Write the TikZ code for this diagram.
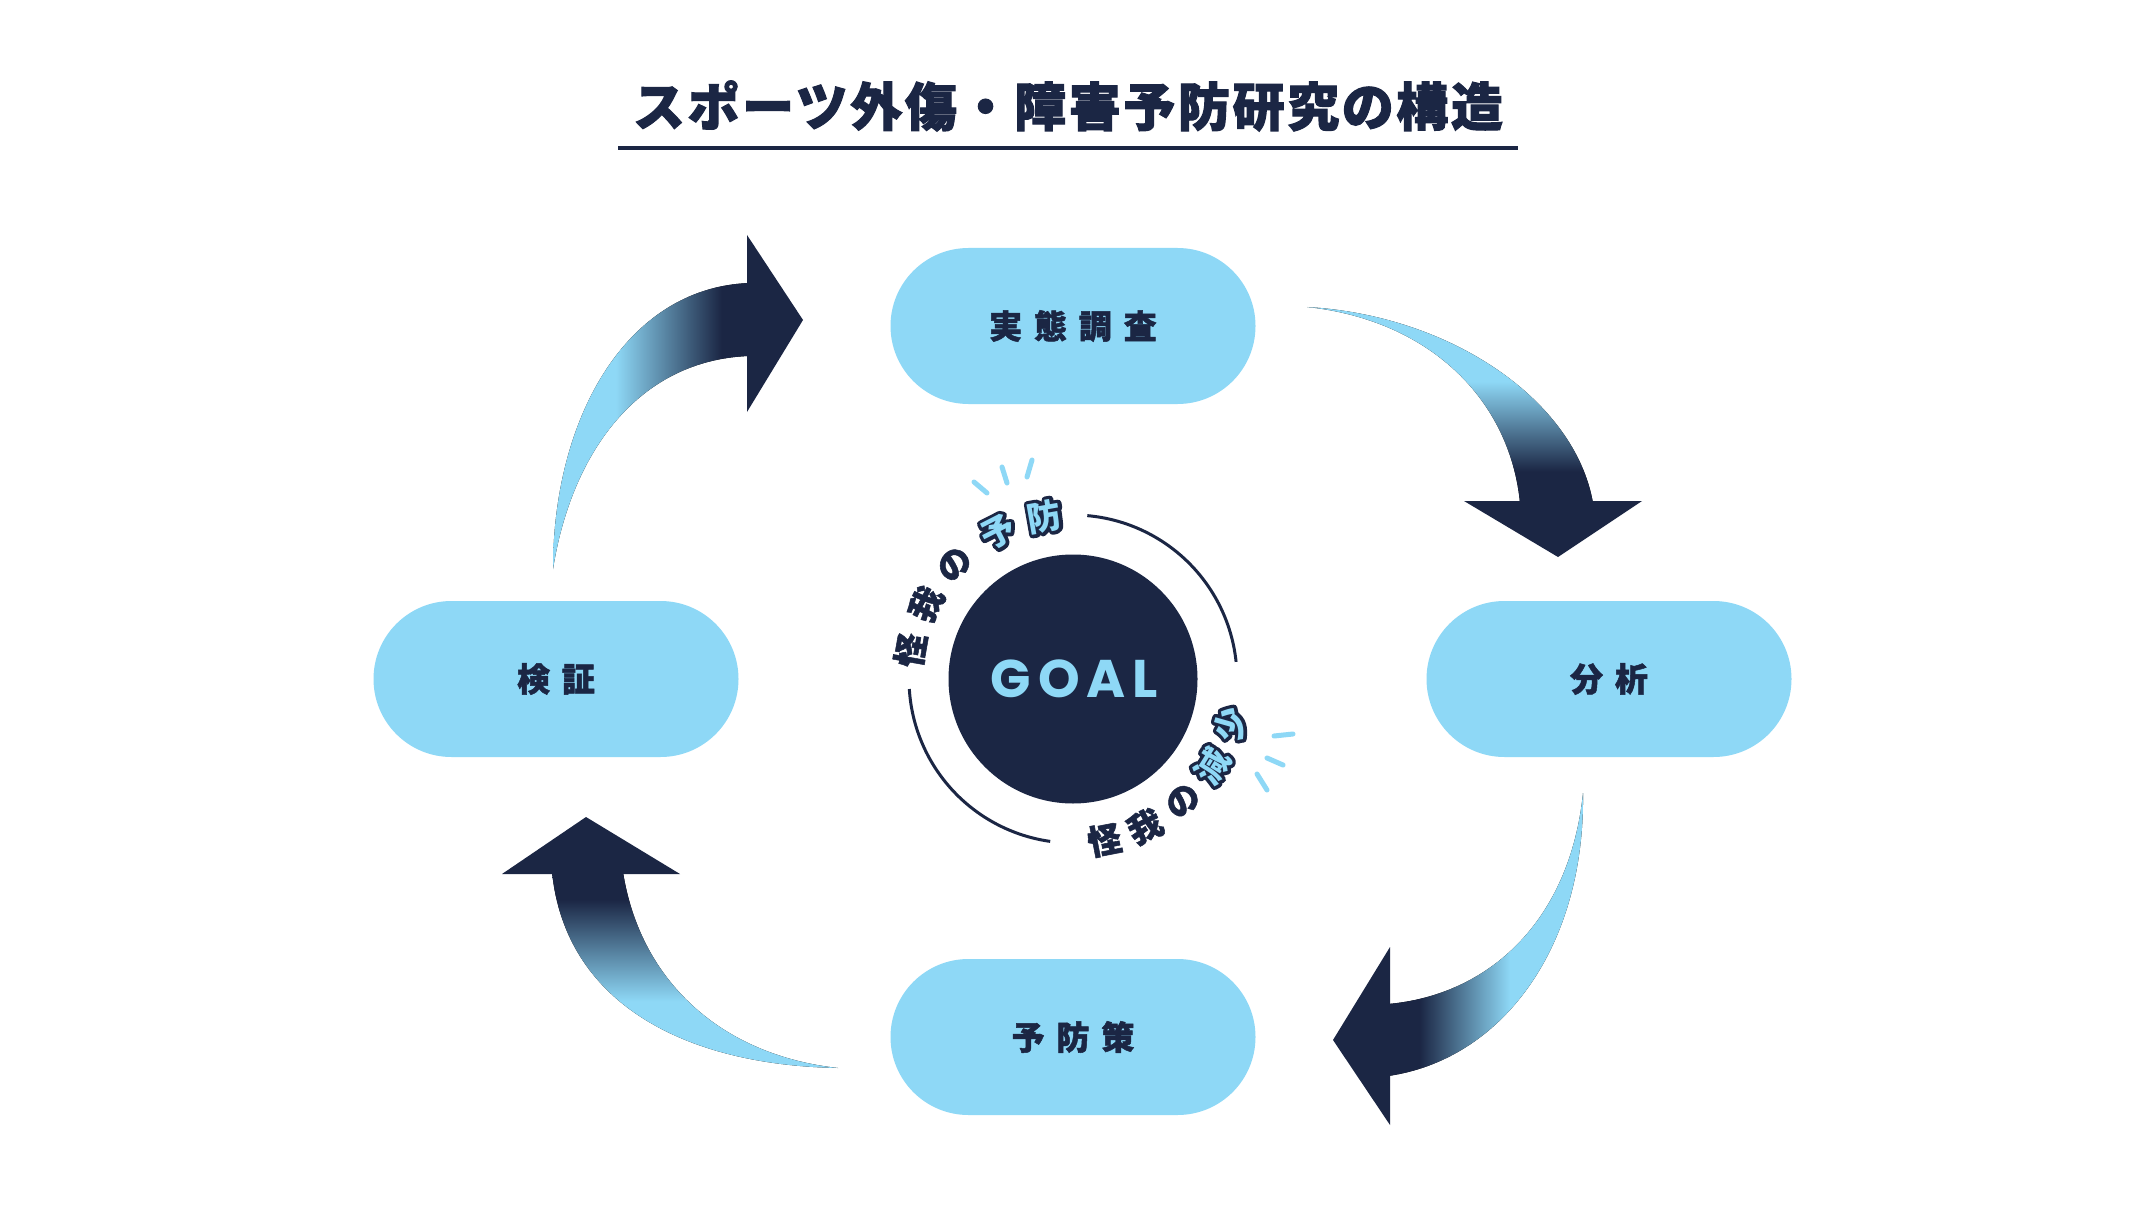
\documentclass[tikz,border=0pt]{standalone}
\usepackage{fontspec}
\newfontfamily\jp{Noto Sans CJK JP}
\newfontfamily\goalf{Poppins}
\definecolor{lb}{RGB}{142,216,246}
\definecolor{nv}{RGB}{27,38,68}
\pgfdeclarehorizontalshading{shA}{100bp}{color(0bp)=(lb); color(41bp)=(lb); color(68bp)=(nv); color(100bp)=(nv)}
\pgfdeclareverticalshading{shB}{100bp}{color(0bp)=(nv); color(33bp)=(nv); color(56bp)=(lb); color(100bp)=(lb)}
\pgfdeclarehorizontalshading{shC}{100bp}{color(0bp)=(nv); color(33bp)=(nv); color(56bp)=(lb); color(100bp)=(lb)}
\pgfdeclareverticalshading{shD}{100bp}{color(0bp)=(lb); color(42bp)=(lb); color(68bp)=(nv); color(100bp)=(nv)}
\tikzset{
  pill/.style={fill=lb, rounded corners=78pt, minimum width=365pt, minimum height=156pt, inner sep=0pt, text=nv,
    font=\jp\bfseries\addfontfeature{LetterSpace=36,FakeBold=1.5}\fontsize{33}{40}\selectfont},
  arcjp/.style={inner sep=0pt, text=nv, font=\jp\bfseries\addfontfeature{FakeBold=1.5}\fontsize{34}{34}\selectfont},
  arcout/.style={inner sep=0pt, text=nv, line join=round, font=\jp\bfseries\addfontfeature{FakeBold=20}\fontsize{34}{34}\selectfont},
  arcin/.style={inner sep=0pt, text=lb, font=\jp\bfseries\fontsize{34}{34}\selectfont},
  ray/.style={lb, line width=5pt, line cap=round},
  ring/.style={nv, line width=3pt},
}
\begin{document}
\begin{tikzpicture}[x=1pt,y=-1pt]
\useasboundingbox (0,0) rectangle (2150,1206);
\fill[white] (0,0) rectangle (2150,1206);

% title
\node[text=nv, inner sep=0pt, font=\jp\bfseries\addfontfeature{LetterSpace=5,FakeBold=2}\fontsize{52}{60}\selectfont] (title) at (1068,106) {スポーツ外傷・障害予防研究の構造};
\coordinate (ulA) at (618,148);
\coordinate (ulB) at (1518,148);
\draw[nv, line width=4pt] (ulA) -- (ulB);

% pills
\node[pill] (survey) at (1073,326) {実態調査};
\node[pill] (analysis) at (1609,679) {分析};
\node[pill] (verify) at (556,679) {検証};
\node[pill] (prevent) at (1073,1037) {予防策};

% arrows
\fill[shading=shA] (553,569) .. controls (553,420) and (625,288) .. (749,283) -- (749,356) .. controls (640,360) and (572,450) .. (553,569) -- cycle;
\fill[nv] (747,235) -- (803,320) -- (747,412) -- cycle;

\fill[shading=shB] (1307,307) .. controls (1450,315) and (1575,400) .. (1593,503) -- (1520,503) .. controls (1510,400) and (1430,320) .. (1307,307) -- cycle;
\fill[nv] (1464,501) -- (1642,501) -- (1558,557) -- cycle;

\fill[shading=shC] (1583,793) .. controls (1585,950) and (1500,1060) .. (1388,1076) -- (1388,1004) .. controls (1490,995) and (1570,920) .. (1583,793) -- cycle;
\fill[nv] (1390,947) -- (1333,1040) -- (1390,1125) -- cycle;

\fill[shading=shD] (552,872) .. controls (565,1000) and (680,1065) .. (838,1068) .. controls (720,1055) and (640,980) .. (623,872) -- cycle;
\fill[nv] (502,874) -- (586,817) -- (680,874) -- cycle;

% goal
\node[circle, fill=nv, minimum size=249pt, inner sep=0pt, text=lb,
  font=\goalf\bfseries\addfontfeature{LetterSpace=13}\fontsize{53}{53}\selectfont] (goal) at (1073,679) {\hspace*{3pt}GOAL};

\draw[ring] plot[domain=6:85, samples=60] ({1073+164*cos(\x)},{679-164*sin(\x)});
\draw[ring] plot[domain=183.5:262, samples=60] ({1073+164*cos(\x)},{679-164*sin(\x)});

% upper text
\foreach \ch/\a/\i in {怪/170/1, 我/153/2, の/136/3}
  \node[arcjp, rotate=\a-90] (u\i) at ({1073+165*cos(\a)},{679-165*sin(\a)}) {\ch};
\foreach \ch/\a/\i in {予/117/4, 防/100/5}{
  \node[arcout, rotate=\a-90] (u\i o) at ({1073+165*cos(\a)},{679-165*sin(\a)}) {\ch};
  \node[arcin, rotate=\a-90] (u\i) at ({1073+165*cos(\a)},{679-165*sin(\a)}) {\ch};
}
% lower text
\foreach \ch/\a/\i in {怪/-79/1, 我/-64/2, の/-48/3}
  \node[arcjp, rotate=\a+90] (l\i) at ({1073+164*cos(\a)},{679-164*sin(\a)}) {\ch};
\foreach \ch/\a/\i in {減/-32/4, 少/-16/5}{
  \node[arcout, rotate=\a+90] (l\i o) at ({1073+164*cos(\a)},{679-164*sin(\a)}) {\ch};
  \node[arcin, rotate=\a+90] (l\i) at ({1073+164*cos(\a)},{679-164*sin(\a)}) {\ch};
}

% rays
\draw[ray] (974,482) -- (987,493);
\draw[ray] (1002,467) -- (1007,483);
\draw[ray] (1032,460) -- (1027,477);
\draw[ray] (1274,736) -- (1293,734);
\draw[ray] (1267,758) -- (1283,765);
\draw[ray] (1257,774) -- (1267,790);
\end{tikzpicture}
\end{document}
